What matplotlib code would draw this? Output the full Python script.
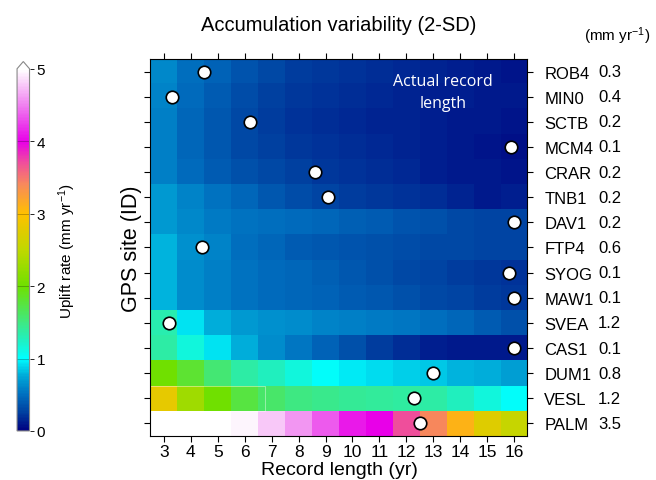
import matplotlib
matplotlib.use("Agg")
import matplotlib.pyplot as plt
import numpy as np
from matplotlib.colors import LinearSegmentedColormap, Normalize
from matplotlib.patches import Rectangle
from matplotlib.transforms import blended_transform_factory

plt.rcParams["font.family"] = ["Liberation Sans", "DejaVu Sans"]
plt.rcParams["mathtext.fontset"] = "custom"
plt.rcParams["mathtext.rm"] = "Liberation Sans"
plt.rcParams["mathtext.it"] = "Liberation Sans"

sites = ["ROB4", "MIN0", "SCTB", "MCM4", "CRAR", "TNB1", "DAV1", "FTP4",
         "SYOG", "MAW1", "SVEA", "CAS1", "DUM1", "VESL", "PALM"]
uplift = ["0.3", "0.4", "0.2", "0.1", "0.2", "0.2", "0.2", "0.6",
          "0.1", "0.1", "1.2", "0.1", "0.8", "1.2", "3.5"]
record_years = list(range(3, 17))
actual_length = [4.5, 3.3, 6.2, 15.9, 8.6, 9.1, 16.0, 4.4,
                 15.8, 16.0, 3.2, 16.0, 13.0, 12.3, 12.5]

# 2-SD accumulation variability (mm/yr), rows = sites, cols = 3..16 yr
variability = [
    [0.62, 0.50, 0.43, 0.36, 0.30, 0.25, 0.22, 0.20, 0.18, 0.16, 0.14, 0.12, 0.10, 0.08],  # ROB4
    [0.60, 0.48, 0.40, 0.33, 0.27, 0.23, 0.20, 0.18, 0.16, 0.14, 0.13, 0.12, 0.11, 0.10],  # MIN0
    [0.58, 0.46, 0.38, 0.31, 0.25, 0.21, 0.19, 0.17, 0.15, 0.14, 0.12, 0.11, 0.10, 0.09],  # SCTB
    [0.57, 0.45, 0.38, 0.31, 0.26, 0.22, 0.20, 0.18, 0.16, 0.14, 0.12, 0.10, 0.08, 0.06],  # MCM4
    [0.57, 0.48, 0.41, 0.35, 0.30, 0.26, 0.23, 0.21, 0.19, 0.16, 0.13, 0.11, 0.10, 0.08],  # CRAR
    [0.70, 0.60, 0.52, 0.45, 0.38, 0.32, 0.28, 0.25, 0.22, 0.20, 0.18, 0.15, 0.11, 0.12],  # TNB1
    [0.70, 0.62, 0.56, 0.52, 0.49, 0.47, 0.45, 0.42, 0.40, 0.37, 0.34, 0.30, 0.28, 0.28],  # DAV1
    [0.80, 0.66, 0.60, 0.50, 0.45, 0.41, 0.38, 0.36, 0.34, 0.32, 0.31, 0.30, 0.29, 0.28],  # FTP4
    [0.80, 0.64, 0.58, 0.52, 0.48, 0.45, 0.42, 0.38, 0.35, 0.31, 0.28, 0.25, 0.22, 0.20],  # SYOG
    [0.80, 0.64, 0.58, 0.52, 0.48, 0.45, 0.43, 0.40, 0.38, 0.35, 0.31, 0.28, 0.25, 0.22],  # MAW1
    [1.32, 0.92, 0.78, 0.70, 0.66, 0.63, 0.60, 0.58, 0.56, 0.53, 0.49, 0.45, 0.40, 0.35],  # SVEA
    [1.35, 1.15, 0.92, 0.78, 0.64, 0.53, 0.44, 0.34, 0.25, 0.18, 0.13, 0.11, 0.10, 0.10],  # CAS1
    [2.00, 1.80, 1.55, 1.35, 1.25, 1.15, 1.02, 0.95, 0.90, 0.86, 0.84, 0.80, 0.77, 0.71],  # DUM1
    [2.80, 2.30, 2.00, 1.75, 1.60, 1.50, 1.45, 1.42, 1.40, 1.37, 1.35, 1.25, 1.15, 1.02],  # VESL
    [5.60, 5.50, 5.30, 4.95, 4.78, 4.58, 4.35, 4.10, 4.00, 3.70, 3.40, 3.10, 2.75, 2.55],  # PALM
]

cmap = LinearSegmentedColormap.from_list("uplift", [
    (0.00, "#000080"), (0.05, "#0040a0"), (0.10, "#0070c0"), (0.15, "#00a8d8"),
    (0.20, "#00ffff"), (0.25, "#20f0c0"), (0.30, "#40e880"), (0.40, "#70e000"),
    (0.50, "#c0d800"), (0.60, "#ffc000"), (0.68, "#f88a5a"), (0.74, "#f0509a"),
    (0.80, "#e800e8"), (0.90, "#f080f0"), (1.00, "#ffffff")])
norm = Normalize(0, 5)

fig = plt.figure(figsize=(6.56, 4.81), dpi=100)
ax = fig.add_axes([0.2294, 0.0915, 0.5747, 0.7838])
ax.imshow(np.array(variability), cmap=cmap, norm=norm, aspect="auto",
          extent=[2.5, 16.5, len(sites) - 0.5, -0.5], interpolation="nearest")
# faint outline artefact in the VESL row
ax.add_patch(Rectangle((2.5, 12.5), 4.25, 1.0, fill=False, ec="white",
                       lw=0.6, alpha=0.5))
ax.plot(actual_length, range(len(sites)), "o", ms=9, mfc="white", mec="black",
        mew=1.2, ls="none")

ax.set_xlim(2.5, 16.5)
ax.set_ylim(len(sites) - 0.5, -0.5)
ax.set_xticks(record_years)
ax.set_yticks(range(len(sites)))
ax.set_yticklabels(sites)
ax.tick_params(axis="x", top=True, bottom=True, direction="out", labelsize=12.5,
               length=4, pad=2)
ax.tick_params(axis="y", left=True, right=True, labelleft=False, labelright=True,
               direction="out", labelsize=12, length=4, pad=8)
for lbl in ax.get_yticklabels():
    lbl.set_horizontalalignment("left")

trans = blended_transform_factory(ax.transAxes, ax.transData)
for i, v in enumerate(uplift):
    ax.text(1.187, i, v, transform=trans, ha="left", va="center", fontsize=12)
fig.text(0.89, 0.925, "(mm yr$^{-1}$)", ha="left", va="center", fontsize=11)

ax.text(13.37, 0.82, "Actual record\nlength", color="white", ha="center",
        va="center", fontsize=11.5, family=["Open Sans", "DejaVu Sans"],
        linespacing=1.45)

ax.set_xlabel("Record length (yr)", fontsize=14, labelpad=1)
ax.set_ylabel("GPS site (ID)", fontsize=15.5, labelpad=2)
ax.set_title("Accumulation variability (2-SD)", fontsize=14.5, pad=21)

cax = fig.add_axes([0.026, 0.102, 0.019, 0.768])
sm = matplotlib.cm.ScalarMappable(norm=norm, cmap=cmap)
cb = fig.colorbar(sm, cax=cax, extend="max", extendfrac=0.02)
cb.set_ticks([0, 1, 2, 3, 4, 5])
for t in [1, 2, 3, 4]:
    cb.ax.axhline(t, color="black", lw=0.5, alpha=0.35)
cb.ax.tick_params(labelsize=11, length=3, width=0.6, pad=2)
cb.outline.set_edgecolor("#888888")
cb.set_label("Uplift rate (mm yr$^{-1}$)", fontsize=11, labelpad=8)

fig.savefig("out.png", dpi=100)
